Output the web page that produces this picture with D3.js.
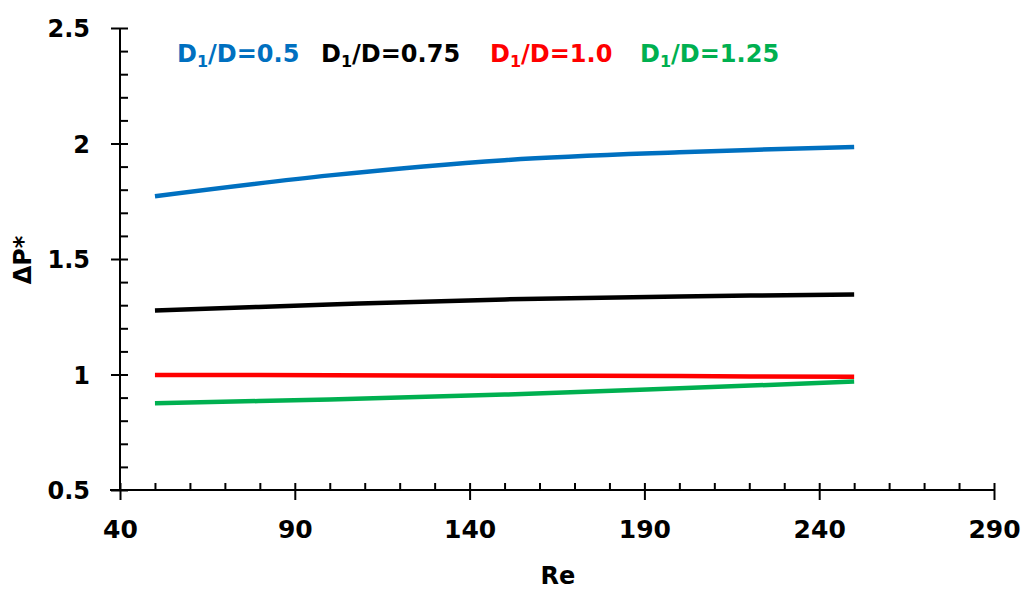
<!DOCTYPE html>
<html>
<head>
<meta charset="utf-8">
<script src="https://cdn.jsdelivr.net/npm/d3@7"></script>
<style>
  body { margin: 0; background: #fff; }
  text { font-family: "DejaVu Sans", sans-serif; font-weight: bold; }
</style>
</head>
<body>
<svg id="chart" width="1022" height="592"></svg>
<script>
// data
var re = [50, 100, 150, 200, 250];
var ratio_labels = ["0.5", "0.75", "1.0", "1.25"];
var series_colors = ["#0070C0", "#000000", "#FF0000", "#00B050"];
var dp_05 = [1.772, 1.862, 1.928, 1.962, 1.985];
var dp_075 = [1.277, 1.303, 1.325, 1.338, 1.346];
var dp_10 = [0.998, 0.997, 0.995, 0.993, 0.990];
var dp_125 = [0.876, 0.892, 0.913, 0.940, 0.970];
var x_ticks = [40, 90, 140, 190, 240, 290];
var y_ticks = [0.5, 1, 1.5, 2, 2.5];

var all_series = [dp_05, dp_075, dp_10, dp_125];

var svg = d3.select("#chart");

var x = d3.scaleLinear().domain([40, 290]).range([120, 994]);
var y = d3.scaleLinear().domain([0.5, 2.5]).range([490, 28]);

// minor ticks
var x_minor = d3.range(40, 291, 10);
var y_minor = d3.range(0.5, 2.51, 0.1);

// y axis: labels + left half of major ticks
var gy = svg.append("g")
    .attr("transform", "translate(120,0)")
    .call(d3.axisLeft(y).tickValues(y_ticks).tickSize(9).tickPadding(21)
          .tickFormat(function(d) { return d3.format("")(d); }));
gy.selectAll("text").style("font-size", "24px").attr("fill", "#000").attr("dy", "0.36em");

// inner ticks (right of axis)
svg.append("g")
    .attr("transform", "translate(120,0)")
    .call(d3.axisRight(y).tickValues(y_minor).tickSize(8).tickFormat(""))
    .select(".domain").remove();

// x axis: labels + lower half of major ticks
var gx = svg.append("g")
    .attr("transform", "translate(0,490)")
    .call(d3.axisBottom(x).tickValues(x_ticks).tickSize(10).tickPadding(20));
gx.selectAll("text").style("font-size", "25px").attr("fill", "#000");

svg.append("g")
    .attr("transform", "translate(0,490)")
    .call(d3.axisTop(x).tickValues(x_minor).tickSize(7).tickFormat(""))
    .select(".domain").remove();

svg.selectAll(".domain, .tick line").attr("stroke", "#000").attr("stroke-width", 2);
gx.select(".domain").attr("d", "M110,0H994");
gy.select(".domain").attr("d", "M0,28V490");

// series lines
var line = d3.line()
    .x(function(d, i) { return x(re[i]); })
    .y(function(d) { return y(d); })
    .curve(d3.curveCatmullRom);

svg.selectAll(".series")
    .data(all_series)
  .enter().append("path")
    .attr("class", "series")
    .attr("d", line)
    .attr("fill", "none")
    .attr("stroke", function(d, i) { return series_colors[i]; })
    .attr("stroke-width", 4.5);

// legend
var legend_x = [177, 321, 490, 640];
ratio_labels.forEach(function(lab, i) {
  var t = svg.append("text")
      .attr("x", legend_x[i])
      .attr("y", 62)
      .attr("fill", series_colors[i])
      .style("font-size", "24px");
  t.append("tspan").text("D");
  t.append("tspan").text("1").style("font-size", "16px").attr("dy", 5);
  t.append("tspan").text("/D=" + lab).attr("dy", -5);
});

// axis titles
svg.append("text")
    .attr("x", 558).attr("y", 584)
    .attr("text-anchor", "middle")
    .style("font-size", "24px")
    .text("Re");

svg.append("text")
    .attr("transform", "translate(31,260) rotate(-90)")
    .attr("text-anchor", "middle")
    .style("font-size", "24px")
    .text("ΔP*");
</script>
</body>
</html>
